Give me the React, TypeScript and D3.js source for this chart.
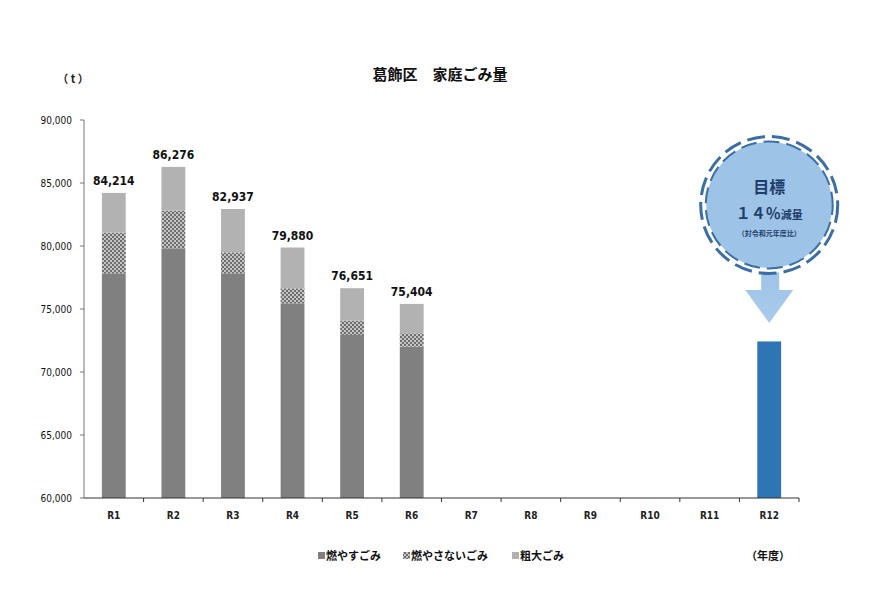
import { scaleBand, scaleLinear, stack } from "d3";

const years = ["R1", "R2", "R3", "R4", "R5", "R6", "R7", "R8", "R9", "R10", "R11", "R12"];
const totals = [84214, 86276, 82937, 79880, 76651, 75404];
// 燃やすごみ / 燃やさないごみ / 粗大ごみ (t)
const burnable = [77833, 79817, 77833, 75452, 72937, 72011];
const nonBurnable = [3223, 2985, 1667, 1191, 1134, 1060];
const bulky = [3158, 3474, 3437, 3237, 2580, 2333];
const targetYear = "R12";
const targetValue = 72424;
const yTicks = [60000, 65000, 70000, 75000, 80000, 85000, 90000];
const seriesNames = ["燃やすごみ", "燃やさないごみ", "粗大ごみ"];

const W = 880;
const H = 597;
const margin = { top: 120, right: 81, bottom: 99, left: 84 };
const font = "'Noto Sans CJK JP', 'DejaVu Sans', sans-serif";
const numFont = "'DejaVu Sans Condensed', 'DejaVu Sans', sans-serif";

const fills = ["#808080", "url(#hatch)", "#b2b2b2"];

export default function App() {
  const x = scaleBand<string>()
    .domain(years)
    .range([margin.left, W - margin.right])
    .paddingInner(0.6)
    .paddingOuter(0.3);
  const band = scaleBand<string>().domain(years).range([margin.left, W - margin.right]);
  const y = scaleLinear().domain([60000, 90000]).range([H - margin.bottom, margin.top]);

  const rows = burnable.map((b, i) => ({
    year: years[i],
    burnable: b,
    nonBurnable: nonBurnable[i],
    bulky: bulky[i],
  }));
  const layers = stack<(typeof rows)[number]>().keys(["burnable", "nonBurnable", "bulky"])(rows);

  const bottom = H - margin.bottom;
  const cx = (x(targetYear) ?? 0) + x.bandwidth() / 2;
  const cy = 205;

  return (
    <svg
      width={W}
      height={H}
      style={{ position: "absolute", left: 0, top: 0, background: "#fff" }}
      fontFamily={font}
    >
      <defs>
        <pattern id="hatch" width={4} height={4} patternUnits="userSpaceOnUse">
          <rect width={4} height={4} fill="#c4c4c4" />
          <rect width={2} height={2} fill="#6e6e6e" />
          <rect x={2} y={2} width={2} height={2} fill="#6e6e6e" />
        </pattern>
        <linearGradient id="arrowGrad" x1="0" y1="0" x2="0" y2="1">
          <stop offset="0" stopColor="#9dc3e6" />
          <stop offset="1" stopColor="#a9cbec" />
        </linearGradient>
      </defs>

      <text x={440} y={80} textAnchor="middle" fontSize={15} fontWeight="bold" fill="#111">
        葛飾区　家庭ごみ量
      </text>
      <text x={73} y={79} dy="0.35em" textAnchor="middle" fontSize={11} fontWeight="bold" fill="#222">
        （ t ）
      </text>

      {/* y axis */}
      <line x1={margin.left} x2={margin.left} y1={margin.top} y2={bottom} stroke="#777" />
      {yTicks.map((t) => (
        <g key={t}>
          <line x1={margin.left - 4} x2={margin.left} y1={y(t)} y2={y(t)} stroke="#777" />
          <text
            x={margin.left - 12}
            y={y(t)}
            dy="0.35em"
            textAnchor="end"
            fontSize={10}
            fontFamily={numFont}
            fill="#111"
          >
            {t.toLocaleString("en-US")}
          </text>
        </g>
      ))}

      {/* stacked bars */}
      {layers.map((layer, li) =>
        layer.map((d, i) => (
          <rect
            key={`${li}-${i}`}
            x={x(rows[i].year)}
            width={x.bandwidth()}
            y={y(Math.min(d[1], 90000))}
            height={y(Math.max(d[0], 60000)) - y(d[1])}
            fill={fills[li]}
          />
        ))
      )}
      {totals.map((t, i) => (
        <text
          key={years[i]}
          x={(x(years[i]) ?? 0) + x.bandwidth() / 2}
          y={y(t) - 8}
          textAnchor="middle"
          fontSize={12}
          fontWeight="bold"
          fontFamily={numFont}
          fill="#111"
        >
          {t.toLocaleString("en-US")}
        </text>
      ))}

      {/* target bar */}
      <rect
        x={x(targetYear)}
        width={x.bandwidth()}
        y={y(targetValue)}
        height={bottom - y(targetValue)}
        fill="#2e75b6"
      />

      {/* x axis */}
      <line x1={margin.left} x2={W - margin.right} y1={bottom} y2={bottom} stroke="#333" />
      {years.map((yr) => (
        <g key={yr}>
          <line
            x1={(band(yr) ?? 0) + band.bandwidth()}
            x2={(band(yr) ?? 0) + band.bandwidth()}
            y1={bottom}
            y2={bottom + 4}
            stroke="#333"
          />
          <text
            x={(band(yr) ?? 0) + band.bandwidth() / 2}
            y={bottom + 17}
            dy="0.35em"
            textAnchor="middle"
            fontSize={10}
            fontWeight="bold"
            fontFamily={numFont}
            fill="#222"
          >
            {yr}
          </text>
        </g>
      ))}

      {/* target callout */}
      <path
        d={`M${cx - 8},${cy + 60} L${cx + 10},${cy + 60} L${cx + 10},${cy + 85} L${cx + 24},${cy + 85} L${cx},${cy + 118} L${cx - 24},${cy + 85} L${cx - 8},${cy + 85} Z`}
        fill="url(#arrowGrad)"
      />
      <circle cx={cx} cy={cy} r={68} fill="#fff" />
      <circle cx={cx} cy={cy} r={63} fill="#9dc3e6" />
      <circle
        cx={cx}
        cy={cy}
        r={68.5}
        fill="none"
        stroke="#3a6ea5"
        strokeWidth={3}
        strokeDasharray="18 7"
      />
      <circle
        cx={cx}
        cy={cy}
        r={63.5}
        fill="none"
        stroke="#3a6ea5"
        strokeWidth={2}
        strokeDasharray="16 7"
        strokeDashoffset={6}
      />
      <text x={cx} y={cy - 18} dy="0.35em" textAnchor="middle" fontSize={16} fontWeight="bold" fill="#1f3d6b">
        目標
      </text>
      <text x={cx} y={cy + 8} dy="0.35em" textAnchor="middle" fontWeight="bold" fill="#1f3d6b">
        <tspan fontSize={15}>１４％</tspan>
        <tspan fontSize={11}>減量</tspan>
      </text>
      <text x={cx} y={cy + 29} dy="0.35em" textAnchor="middle" fontSize={7} fontWeight="bold" fill="#1f3d6b">
        （対令和元年度比）
      </text>

      {/* legend */}
      {seriesNames.map((name, i) => {
        const lx = [318, 403, 512][i];
        return (
          <g key={name}>
            <rect x={lx} y={552} width={7} height={7} fill={fills[i]} />
            <text x={lx + 8} y={556} dy="0.35em" fontSize={11} fontWeight="bold" fill="#111">
              {name}
            </text>
          </g>
        );
      })}
      <text x={790} y={556} dy="0.35em" textAnchor="end" fontSize={11} fontWeight="bold" fill="#111">
        （年度）
      </text>
    </svg>
  );
}
